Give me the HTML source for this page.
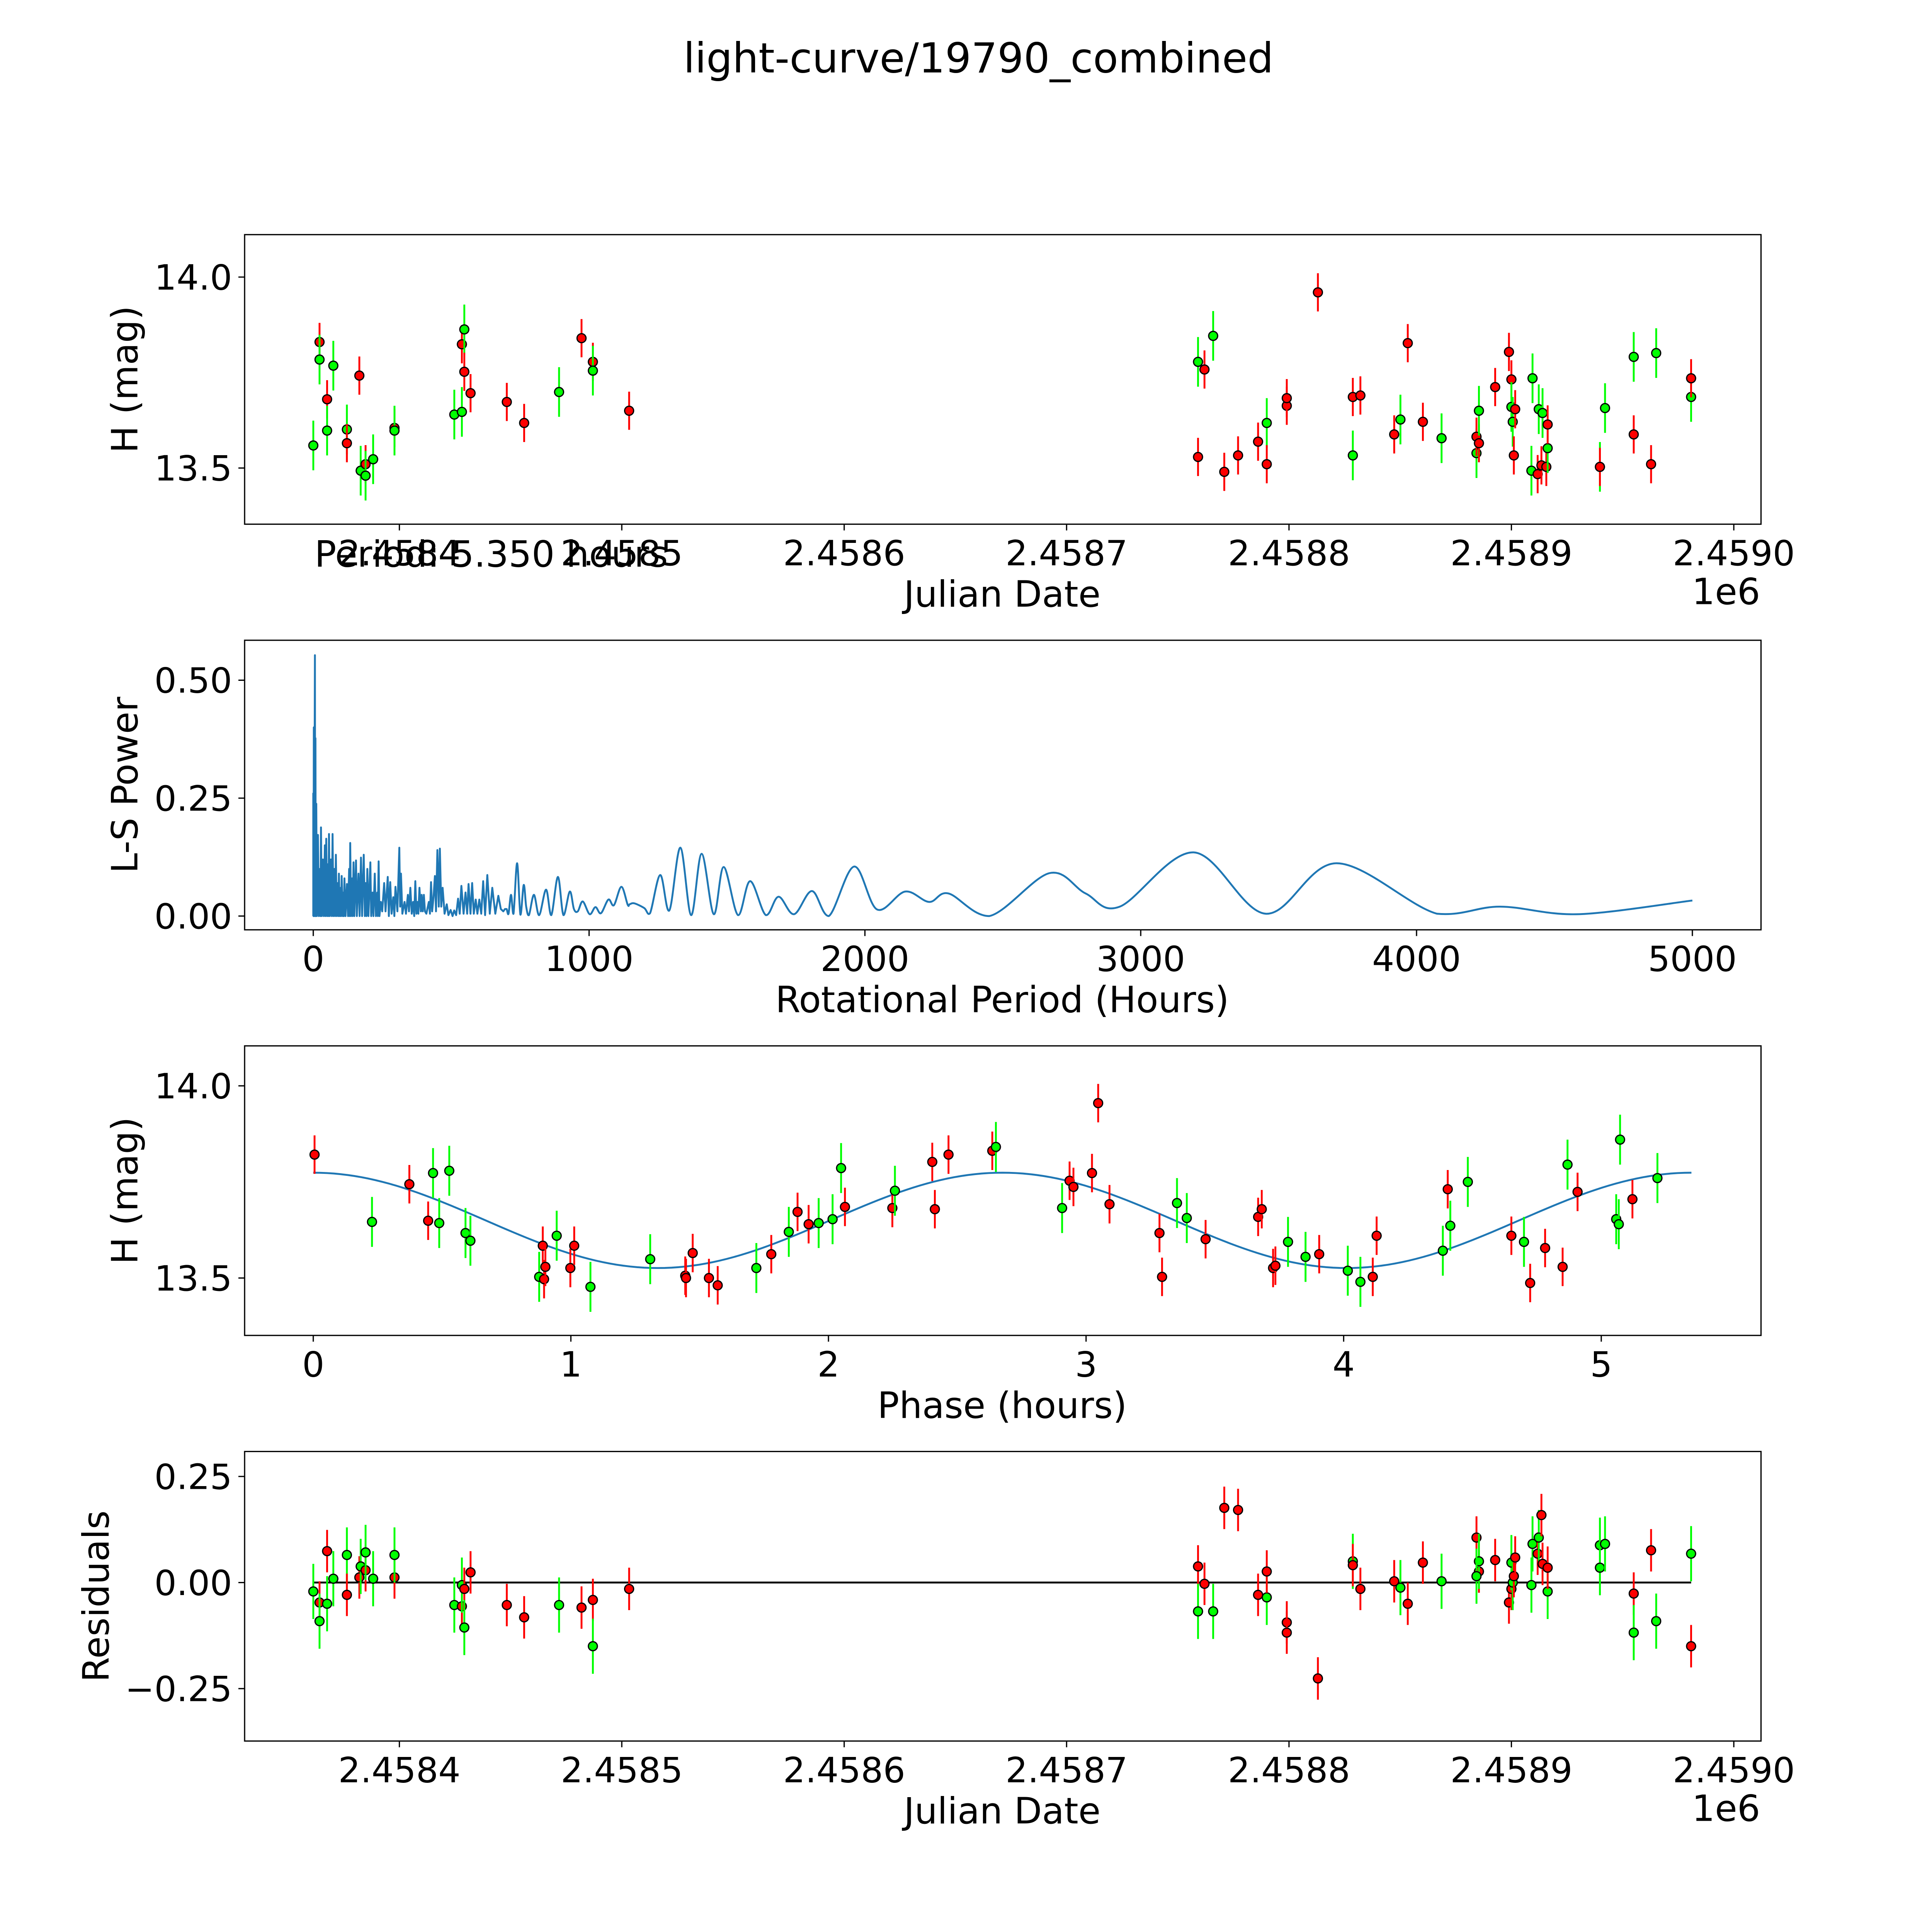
<!DOCTYPE html>
<html><head><meta charset="utf-8"><style>
html,body{margin:0;padding:0;background:#fff;overflow:hidden;width:100vw;height:100vh;}
svg{display:block;width:100vw;height:100vh;}
text{font-family:"DejaVu Sans","Liberation Sans",sans-serif;fill:#000;}
</style></head><body>
<svg id="fig" xmlns="http://www.w3.org/2000/svg" viewBox="0 0 1548 1548" preserveAspectRatio="xMidYMid meet">
<rect x="0" y="0" width="1548" height="1548" fill="#fff"/>
<text x="784" y="58" font-size="33" text-anchor="middle">light-curve/19790_combined</text>
<g id="root"></g>
</svg>
<script>
// ---------- Panel 1: light curve (JD - 2458000, mag, colour) ----------
const lcJd = [361.3,364.1,364.1,367.5,367.5,370.3,376.4,376.4,382.0,382.6,384.8,384.8,388.2,397.8,397.8,424.7,428.1,428.1,429.2,429.2,432.0,448.3,456.1,471.8,481.9,487.0,487.0,503.3,759.1,759.1,762.0,765.9,770.9,777.1,786.1,790.0,790.0,799.0,799.0,813.0,828.7,828.7,832.1,847.3,850.1,853.4,860.2,868.6,884.3,884.3,885.4,885.4,892.7,898.9,900.0,900.0,900.6,901.1,901.7,909.0,909.5,911.8,912.3,913.5,914.0,915.7,916.3,916.3,939.8,939.8,942.1,955.0,955.0,962.8,965.1,980.8,980.8];
const lcMag = [13.559,13.83,13.784,13.68,13.598,13.768,13.601,13.565,13.742,13.493,13.51,13.48,13.523,13.605,13.598,13.64,13.647,13.824,13.863,13.752,13.696,13.673,13.618,13.699,13.84,13.778,13.755,13.65,13.778,13.529,13.758,13.846,13.49,13.533,13.569,13.618,13.51,13.663,13.683,13.96,13.533,13.686,13.69,13.588,13.627,13.827,13.621,13.578,13.539,13.582,13.565,13.65,13.712,13.804,13.732,13.66,13.621,13.533,13.654,13.493,13.735,13.484,13.654,13.507,13.644,13.503,13.552,13.614,13.503,13.503,13.657,13.588,13.791,13.51,13.801,13.686,13.735];
const lcCol = ["g","r","g","r","g","g","g","r","r","g","r","g","g","r","g","g","g","r","g","r","r","r","r","g","r","r","g","r","g","r","r","g","r","r","r","g","r","r","r","r","g","r","r","r","g","r","r","g","g","r","r","g","r","r","r","g","g","r","r","g","g","r","g","r","g","r","g","r","g","r","g","r","g","r","g","g","r"];

// ---------- Panel 2: Lomb-Scargle periodogram ----------
const lsPeriod = [0,0,1,2,3,6,7,8,9,11,13,17,20,24,26,28,31,35,38,42,44,47,50,53,55,57,60,64,67,70,73,77,79,82,85,89,91,93,96,100,101,103,107,110,111,113,117,122,126,130,132,134,137,141,143,146,149,155,158,164,168,173,177,183,187,190,193,196,200,207,210,215,218,223,227,232,234,237,240,245,250,257,262,270,274,279,284,290,294,298,305,312,315,318,323,331,336,343,347,352,357,362,366,370,374,378,381,385,390,393,397,401,405,410,419,423,427,431,436,441,445,450,455,459,464,469,476,484,490,498,505,511,518,525,531,537,545,552,558,563,570,576,582,589,595,602,609,616,623,631,640,649,660,671,680,689,695,701,708,717,726,739,751,763,772,782,800,819,844,863,887,907,930,945,959,977,1002,1023,1043,1070,1090,1117,1140,1147,1164,1200,1221,1258,1291,1331,1370,1408,1452,1488,1540,1584,1641,1687,1743,1808,1869,1961,2044,2146,2233,2303,2451,2669,2800,2924,3192,3453,3710,4074,4303,4586,5000];
const lsPower = [0,0.26,0,0.40,0,0.553,0,0.377,0,0.238,0,0.172,0,0.1,0,0.188,0,0.12,0,0.15,0,0.164,0,0.11,0,0.174,0,0.12,0,0.174,0,0.1,0,0.13,0,0.07,0,0.09,0,0.06,0,0.085,0,0.05,0,0.08,0,0.068,0,0.1,0,0.155,0,0.08,0,0.114,0,0.118,0,0.09,0,0.124,0,0.13,0,0.07,0,0.1,0,0.114,0,0.05,0,0.09,0,0.05,0,0.116,0,0.03,0.01,0.07,0.01,0.083,0,0.072,0.005,0.04,0,0.062,0.01,0.145,0.02,0.09,0.005,0.03,0.005,0.045,0.01,0.06,0.005,0.03,0,0.074,0.005,0.03,0.005,0.06,0.01,0.045,0.01,0.045,0.01,0.005,0.03,0.005,0.072,0.01,0.04,0.085,0.01,0.14,0.02,0.143,0.02,0.06,0.005,0.025,0.002,0.013,0,0.012,0.002,0.037,0.005,0.064,0.005,0.05,0.005,0.068,0.005,0.07,0.005,0.035,0.005,0.035,0.005,0.074,0.002,0.087,0.005,0.06,0.005,0.043,0.015,0.01,0.015,0.015,0.005,0.045,0.005,0.112,0.003,0.066,0.02,0.002,0.045,0.002,0.056,0.002,0.083,0.002,0.052,0.015,0.01,0.031,0.004,0.019,0.006,0.035,0.023,0.062,0.024,0.025,0.027,0.017,0.006,0.087,0.012,0.145,0.002,0.132,0.004,0.104,0.002,0.074,0.002,0.041,0.004,0.053,0,0.105,0.014,0.052,0.03,0.048,0,0.091,0.048,0.02,0.135,0.005,0.112,0.005,0.02,0.004,0.033];

// ---------- Panel 3: phased light curve ----------
const phPhase = [0.005,0.228,0.373,0.446,0.465,0.489,0.528,0.591,0.610,0.891,0.877,0.896,0.901,0.945,0.998,1.013,1.076,1.308,1.444,1.447,1.473,1.536,1.570,1.720,1.778,1.846,1.880,1.923,1.962,2.016,2.049,2.064,2.248,2.258,2.403,2.413,2.466,2.636,2.650,2.907,2.936,2.951,3.023,3.047,3.091,3.285,3.295,3.353,3.391,3.464,3.668,3.682,3.726,3.735,3.784,3.852,3.905,4.016,4.065,4.113,4.128,4.385,4.404,4.414,4.482,4.651,4.700,4.724,4.782,4.850,4.869,4.908,5.058,5.068,5.073,5.121,5.218];
const phMag = [13.821,13.646,13.744,13.649,13.773,13.643,13.779,13.617,13.597,13.584,13.503,13.497,13.529,13.610,13.526,13.584,13.477,13.549,13.506,13.500,13.565,13.500,13.481,13.526,13.562,13.620,13.672,13.640,13.643,13.653,13.786,13.685,13.682,13.727,13.802,13.679,13.821,13.831,13.841,13.682,13.753,13.737,13.773,13.955,13.692,13.617,13.503,13.695,13.656,13.601,13.659,13.679,13.526,13.532,13.594,13.555,13.562,13.519,13.490,13.503,13.610,13.571,13.731,13.636,13.750,13.610,13.594,13.487,13.578,13.529,13.795,13.724,13.653,13.640,13.860,13.705,13.760];
const phCol = ["r","g","r","r","g","g","g","g","g","r","g","r","r","g","r","r","g","g","r","r","r","r","r","g","r","g","r","r","g","g","g","r","r","g","r","r","r","r","g","g","r","r","r","r","r","r","r","g","g","r","r","r","r","r","g","g","r","g","g","r","r","g","r","g","g","r","g","r","r","r","g","r","g","g","g","r","g"];
const modelPeriod = 5.35;
const modelMean = 13.65;
const modelAmp = 0.124;

// ---------- Panel 4: residuals ----------
const resJd = [361.3,364.1,364.1,367.5,367.5,370.3,376.4,376.4,382.0,382.6,384.8,384.8,388.2,397.8,397.8,424.7,428.1,428.1,429.2,429.2,432.0,448.3,456.1,471.8,481.9,487.0,487.0,503.3,759.1,759.1,762.0,765.9,770.9,777.1,786.1,790.0,790.0,799.0,799.0,813.0,828.7,828.7,832.1,847.3,850.1,853.4,860.2,868.6,884.3,885.4,885.4,884.3,892.7,898.9,900.0,900.0,900.6,901.1,901.7,909.5,909.0,911.8,912.3,913.5,914.0,916.3,916.3,939.8,939.8,942.1,955.0,955.0,962.8,965.1,980.8,980.8];
const resVal = [-0.021,-0.047,-0.091,0.074,-0.05,0.009,0.065,-0.029,0.012,0.038,0.029,0.071,0.009,0.012,0.065,-0.053,-0.056,-0.006,-0.015,-0.106,0.024,-0.053,-0.082,-0.053,-0.059,-0.041,-0.15,-0.015,0.038,-0.068,-0.003,-0.068,0.176,0.171,-0.029,-0.035,0.026,-0.094,-0.118,-0.226,0.05,0.041,-0.015,0.003,-0.012,-0.05,0.047,0.003,0.106,0.026,0.05,0.015,0.053,-0.047,-0.015,0.047,0,0.015,0.059,0.091,-0.006,0.068,0.106,0.159,0.044,-0.021,0.035,0.088,0.035,0.091,-0.026,-0.118,0.076,-0.091,0.068,-0.15];
const resCol = ["g","r","g","r","g","g","g","r","r","g","r","g","g","r","g","g","r","g","r","g","r","r","r","g","r","r","g","r","r","g","r","g","r","r","r","g","r","r","r","r","g","r","r","r","g","r","r","g","r","r","g","g","r","r","r","g","g","r","r","g","g","r","g","r","r","g","r","g","g","g","r","g","r","g","g","r"];

// ---------- drawing ----------
const NS = "http://www.w3.org/2000/svg";
const root = document.getElementById('root');
function mk(tag, attrs, parent){ const e=document.createElementNS(NS,tag); for(const k in attrs) e.setAttribute(k,attrs[k]); (parent||root).appendChild(e); return e; }
const FILL = {r:"#ff0000", g:"#00ff00"};
const ERR = {r:0.05, g:0.065};
const TICK_FS = 28, LABEL_FS = 29;

const L=196, R=1411;
const panels = [{t:188,b:420},{t:513,b:745},{t:838,b:1070},{t:1163,b:1395}];
const xJd = jd => 320 + (jd-400)*1.782;
const y1 = m => 375 - (m-13.5)*306;
const xLs = p => 251 + p*0.221;
const yLs = v => 734 - v*378;
const xPh = ph => 251 + ph*206.4;
const y3 = m => 1024 - (m-13.5)*308;
const y4 = r => 1268 - r*340;

function frame(i, name){
  const p=panels[i];
  const r=mk('rect',{x:L,y:p.t,width:R-L,height:p.b-p.t,fill:'none',stroke:'#000','stroke-width':1});
  
  
}
function xtick(i, x, label, name){
  const p=panels[i];
  const g=mk('g',{});
  
  
  mk('line',{x1:x,y1:p.b,x2:x,y2:p.b+5,stroke:'#000','stroke-width':1},g);
  const t=mk('text',{x:x,y:p.b+33,'font-size':TICK_FS,'text-anchor':'middle'},g); t.textContent=label;
}
function ytick(y, label, name){
  const g=mk('g',{});
  
  
  mk('line',{x1:L-5,y1:y,x2:L,y2:y,stroke:'#000','stroke-width':1},g);
  const t=mk('text',{x:L-10,y:y+10,'font-size':TICK_FS,'text-anchor':'end'},g); t.textContent=label;
}
function label(x,y,txt,name,rot){
  const t=mk('text',{x:x,y:y,'font-size':LABEL_FS,'text-anchor':'middle'});
  if(rot) t.setAttribute('transform','rotate(-90 '+x+' '+y+')');
  t.textContent=txt;
  
  
}
function point(x,y,ey1,ey2,c,name,parent){
  const g=mk('g',{},parent);
  
  
  mk('line',{x1:x,y1:ey1,x2:x,y2:ey2,stroke:FILL[c],'stroke-width':1.5},g);
  mk('circle',{cx:x,cy:y,r:3.6,fill:FILL[c],stroke:'#000','stroke-width':1},g);
}
const jdTicks=[400,500,600,700,800,900,1000];
const jdLabels=["2.4584","2.4585","2.4586","2.4587","2.4588","2.4589","2.4590"];

// Panel 1
frame(0,'light-curve-axes');
const g1=mk('g',{});  
lcJd.forEach((d,i)=>{ const c=lcCol[i], m=lcMag[i]; point(xJd(d),y1(m),y1(m+ERR[c]),y1(m-ERR[c]),c,'light-curve-point',g1); });
jdTicks.forEach((d,i)=>xtick(0,xJd(d),jdLabels[i],'x-tick-jd'));
ytick(y1(14.0),"14.0",'y-tick-mag'); ytick(y1(13.5),"13.5",'y-tick-mag');
label(803,486,"Julian Date",'x-axis-title-jd');
label(1383,484,"1e6",'x-offset-label');
label(110,304,"H (mag)",'y-axis-title-mag',true);
{const t=mk('text',{x:252,y:454,'font-size':LABEL_FS}); t.textContent="Period: 5.350 hours";  }

// Panel 2
frame(1,'periodogram-axes');
{
  const pts=lsPeriod.map((p,i)=>[xLs(p),yLs(lsPower[i])]);
  let d='M'+pts[0][0].toFixed(2)+','+pts[0][1].toFixed(2);
  for(let i=0;i<pts.length-1;i++){
    const p0=pts[Math.max(0,i-1)],p1=pts[i],p2=pts[i+1],p3=pts[Math.min(pts.length-1,i+2)];
    if(lsPeriod[i]<700){ d+=' L'+p2[0].toFixed(2)+','+p2[1].toFixed(2); continue; }
    const c1=[p1[0]+(p2[0]-p0[0])/6, p1[1]+(p2[1]-p0[1])/6];
    const c2=[p2[0]-(p3[0]-p1[0])/6, p2[1]-(p3[1]-p1[1])/6];
    c1[1]=Math.min(c1[1],734); c2[1]=Math.min(c2[1],734);
    d+=' C'+c1[0].toFixed(2)+','+c1[1].toFixed(2)+' '+c2[0].toFixed(2)+','+c2[1].toFixed(2)+' '+p2[0].toFixed(2)+','+p2[1].toFixed(2);
  }
  const path=mk('path',{d:d,fill:'none',stroke:'#1f77b4','stroke-width':1.5,'stroke-linejoin':'round'});
  
  
}
[0,1000,2000,3000,4000,5000].forEach(p=>xtick(1,xLs(p),String(p),'x-tick-period'));
ytick(yLs(0),"0.00",'y-tick-power'); ytick(yLs(0.25),"0.25",'y-tick-power'); ytick(yLs(0.5),"0.50",'y-tick-power');
label(803,811,"Rotational Period (Hours)",'x-axis-title-period');
label(110,629,"L-S Power",'y-axis-title-power',true);

// Panel 3
frame(2,'phase-axes');
{
  let d='';
  for(let k=0;k<=200;k++){ const ph=modelPeriod*k/200; const m=modelMean+modelAmp*Math.cos(4*Math.PI*ph/modelPeriod); d+=(k?' L':'M')+xPh(ph).toFixed(2)+','+y3(m).toFixed(2); }
  const path=mk('path',{d:d,fill:'none',stroke:'#1f77b4','stroke-width':1.5});
  
  
}
const g3=mk('g',{});  
phPhase.forEach((ph,i)=>{ const c=phCol[i], m=phMag[i]; point(xPh(ph),y3(m),y3(m+ERR[c]),y3(m-ERR[c]),c,'phase-point',g3); });
[0,1,2,3,4,5].forEach(p=>xtick(2,xPh(p),String(p),'x-tick-phase'));
ytick(y3(14.0),"14.0",'y-tick-mag'); ytick(y3(13.5),"13.5",'y-tick-mag');
label(803,1136,"Phase (hours)",'x-axis-title-phase');
label(110,954,"H (mag)",'y-axis-title-mag-phase',true);

// Panel 4
frame(3,'residuals-axes');
{const z=mk('line',{x1:xJd(361.3),y1:y4(0),x2:xJd(980.8),y2:y4(0),stroke:'#000','stroke-width':1.5});  }
const g4=mk('g',{});  
resJd.forEach((d,i)=>{ const c=resCol[i], r=resVal[i]; point(xJd(d),y4(r),y4(r+ERR[c]),y4(r-ERR[c]),c,'residual-point',g4); });
jdTicks.forEach((d,i)=>xtick(3,xJd(d),jdLabels[i],'x-tick-jd'));
ytick(y4(0.25),"0.25",'y-tick-residual'); ytick(y4(0),"0.00",'y-tick-residual'); ytick(y4(-0.25),"\u22120.25",'y-tick-residual');
label(803,1461,"Julian Date",'x-axis-title-jd-residuals');
label(1383,1459,"1e6",'x-offset-label-residuals');
label(87,1279,"Residuals",'y-axis-title-residuals',true);
</script>
</body></html>
